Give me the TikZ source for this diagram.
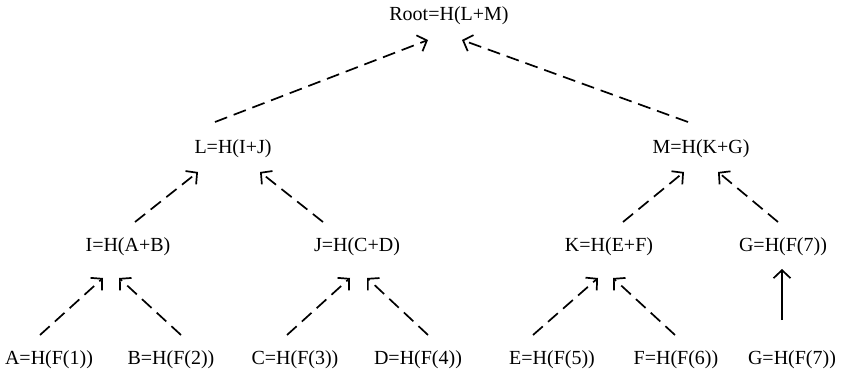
\documentclass[tikz,border=0pt]{standalone}
\usepackage{fontspec}
\setmainfont{Liberation Serif}
\usetikzlibrary{arrows.meta}
\begin{document}
\begin{tikzpicture}[x=1pt,y=-1pt,
  hnode/.style={anchor=base,inner sep=0pt,font=\fontsize{20}{22}\selectfont},
  link/.style={line width=1.7pt,dash pattern=on 13pt off 7pt,
    -{Straight Barb[length=8pt,width=17pt]}},
  solidlink/.style={line width=1.7pt,-{Straight Barb[length=8pt,width=17pt]}}]
\useasboundingbox (0,0) rectangle (841,374);
% hash tree nodes
\node[hnode] (root) at (449,21) {Root=H(L+M)};
\node[hnode] (L) at (233,154) {L=H(I+J)};
\node[hnode] (M) at (701,154) {M=H(K+G)};
\node[hnode] (I) at (128,252) {I=H(A+B)};
\node[hnode] (J) at (357,252) {J=H(C+D)};
\node[hnode] (K) at (609,252) {K=H(E+F)};
\node[hnode] (G2) at (783,252) {G=H(F(7))};
\node[hnode] (A) at (49,364) {A=H(F(1))};
\node[hnode] (B) at (171,364) {B=H(F(2))};
\node[hnode] (C) at (295,364) {C=H(F(3))};
\node[hnode] (D) at (418,364) {D=H(F(4))};
\node[hnode] (E) at (552,364) {E=H(F(5))};
\node[hnode] (F) at (676,364) {F=H(F(6))};
\node[hnode] (G1) at (792,364) {G=H(F(7))};
% connector end points
\coordinate (rootL) at (428,40);
\coordinate (rootR) at (462,40);
\coordinate (Lup) at (215,122);
\coordinate (Mup) at (688,122);
\coordinate (Lin1) at (198,172);
\coordinate (Lin2) at (260,172);
\coordinate (Min1) at (684,172);
\coordinate (Min2) at (718,172);
\coordinate (Iup) at (135,222);
\coordinate (Jup) at (323,222);
\coordinate (Kup) at (623,222);
\coordinate (Gup) at (778,222);
\coordinate (Iin1) at (103,278);
\coordinate (Iin2) at (119,278);
\coordinate (Jin1) at (350,278);
\coordinate (Jin2) at (367,278);
\coordinate (Kin1) at (598,278);
\coordinate (Kin2) at (613,278);
\coordinate (Gin) at (782,269);
\coordinate (Aup) at (40,335);
\coordinate (Bup) at (181,335);
\coordinate (Cup) at (287,335);
\coordinate (Dup) at (428,335);
\coordinate (Eup) at (533,335);
\coordinate (Fup) at (675,335);
\coordinate (Gleaf) at (782,320);
% connectors
\draw[link] (Lup) -- (rootL);
\draw[link] (Mup) -- (rootR);
\draw[link] (Iup) -- (Lin1);
\draw[link] (Jup) -- (Lin2);
\draw[link] (Kup) -- (Min1);
\draw[link] (Gup) -- (Min2);
\draw[link] (Aup) -- (Iin1);
\draw[link] (Bup) -- (Iin2);
\draw[link] (Cup) -- (Jin1);
\draw[link] (Dup) -- (Jin2);
\draw[link] (Eup) -- (Kin1);
\draw[link] (Fup) -- (Kin2);
\draw[solidlink] (Gleaf) -- (Gin);
\end{tikzpicture}
\end{document}
